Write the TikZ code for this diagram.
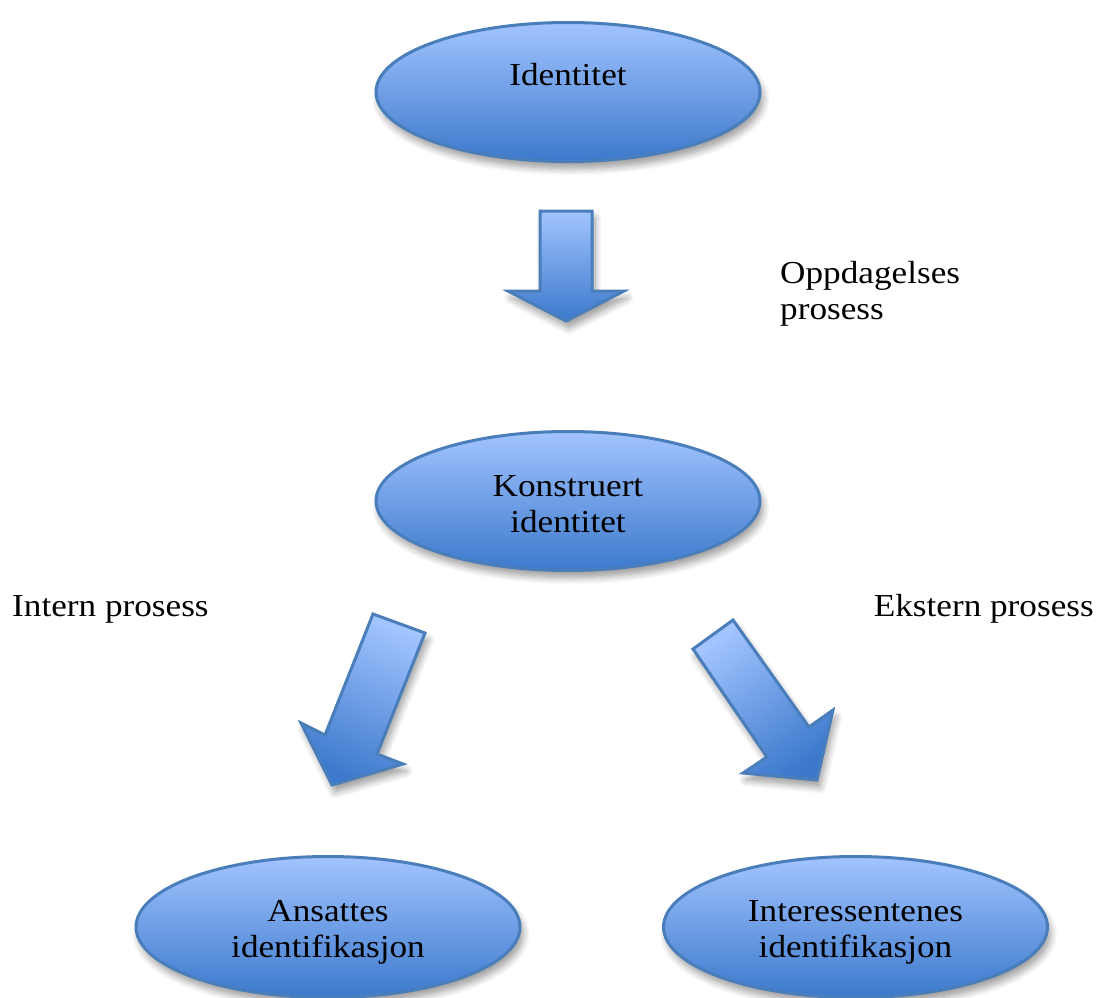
\documentclass[tikz,border=0pt]{standalone}
\usepackage{fontspec}
\setmainfont{Liberation Serif}[FakeStretch=1.1]
\usetikzlibrary{shapes.geometric,shadows.blur}
\definecolor{topblue}{RGB}{162,196,255}
\definecolor{botblue}{RGB}{60,121,204}
\definecolor{edgeblue}{RGB}{74,126,187}
\tikzset{
  softshadow/.style={blur shadow={shadow xshift=3pt,shadow yshift=-7pt,shadow blur steps=8,shadow blur radius=7pt,shadow opacity=40}},
  oval/.style={ellipse,draw=edgeblue,line width=3pt,top color=topblue,bottom color=botblue,
    minimum width=384pt,minimum height=139pt,inner sep=0pt,align=center,softshadow,
    font=\fontsize{32}{37}\selectfont},
  ovaltext/.style={align=center,font=\fontsize{32}{36}\selectfont,inner sep=0pt},
  blockarrow/.style={draw=edgeblue,line width=3pt,line join=miter,top color=topblue,bottom color=botblue,softshadow},
  lbl/.style={font=\fontsize{32}{36}\selectfont,inner sep=0pt,align=left}
}
\begin{document}
\begin{tikzpicture}[x=1pt,y=-1pt]
\useasboundingbox (0,0) rectangle (1096,998);
% ellipses
\node[oval,label={[ovaltext,yshift=17pt]center:Identitet}] (ident) at (568,92) {};
\node[oval,label={[ovaltext,yshift=-3pt]center:Konstruert\\identitet}] (konst) at (568,501) {};
\node[oval,minimum height=141pt,label={[ovaltext,yshift=-5pt]center:Ansattes\\identifikasjon}] (ansat) at (328,927) {};
\node[oval,minimum height=141pt,label={[ovaltext,yshift=-5pt]center:Interessentenes\\identifikasjon}] (inter) at (855.5,927) {};
% block arrows
\draw[blockarrow] (540,211) -- (592,211) -- (592,291) -- (624,291) -- (566,321) -- (508,291) -- (540,291) -- cycle;
\draw[blockarrow,shading angle=-22] (373,614) -- (425,633) -- (377,754) -- (403,764) -- (332,785) -- (301,723) -- (325,735) -- cycle;
\draw[blockarrow,shading angle=35] (733,620) -- (809,727) -- (833,710) -- (817,780) -- (743,773) -- (767,757) -- (693,649) -- cycle;
% labels
\node[lbl,anchor=north west] (opp) at (780,261) {Oppdagelses\\prosess};
\node[lbl,anchor=west] (intern) at (12,609) {Intern prosess};
\node[lbl,anchor=east] (ekstern) at (1094,609) {Ekstern prosess};
\end{tikzpicture}
\end{document}
